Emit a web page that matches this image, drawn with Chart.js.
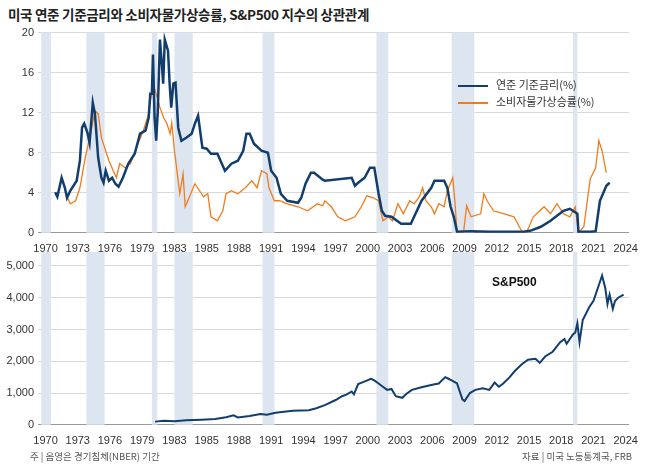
<!DOCTYPE html>
<html><head><meta charset="utf-8">
<script src="https://cdn.jsdelivr.net/npm/chart.js@4"></script>
<style>
body{margin:0;width:650px;height:466px;background:#fff;position:relative;font-family:"Noto Sans CJK KR","Noto Sans",sans-serif;overflow:hidden}
#title{position:absolute;left:8px;top:4px;font-size:13.5px;font-weight:bold;color:#222;letter-spacing:-0.3px}
canvas{position:absolute;left:0}
#c1{top:22px}#c2{top:240px}
.leg{position:absolute;left:458px;font-size:11px;color:#333}
.leg span{display:inline-block;width:30px;height:2.5px;vertical-align:middle;margin-right:8px}
#sp{position:absolute;left:492px;top:275px;font-size:12px;font-weight:bold;font-family:"Liberation Sans",sans-serif;color:#111}
.foot{position:absolute;top:449px;font-size:9.5px;color:#555}
</style></head><body>
<div id="title">미국 연준 기준금리와 소비자물가상승률, S&amp;P500 지수의 상관관계</div>
<canvas id="c1" width="640" height="236"></canvas>
<canvas id="c2" width="640" height="210"></canvas>
<div class="leg" style="top:76px"><span style="background:#123e6e"></span>연준 기준금리(%)</div>
<div class="leg" style="top:93px"><span style="background:#f07c1c;height:1.5px"></span>소비자물가상승률(%)</div>
<div id="sp">S&amp;P500</div>
<div class="foot" style="left:30px">주 | 음영은 경기침체(NBER) 기간</div>
<div class="foot" style="right:18px">자료 | 미국 노동통계국, FRB</div>
<script>
Chart.defaults.font.family = "'Liberation Sans', sans-serif";
Chart.defaults.font.size = 11;
Chart.defaults.color = "#333";

const recessions = [[1969.6,1970.5],[1973.8,1975.5],[1979.9,1980.4],[1982.0,1983.7],[1990.2,1991.3],[2000.8,2001.9],[2007.8,2009.9],[2019.1,2019.5]];

const fedRate = [[1970.9,4.05],[1971.1,3.6],[1971.5,5.5],[1971.8,4.5],[1972.0,3.5],[1972.3,4.2],[1972.9,5.2],[1973.2,7.2],[1973.4,10.5],[1973.6,10.9],[1973.9,10],[1974.1,9],[1974.4,13],[1974.6,11.9],[1974.9,7.5],[1975.2,5.5],[1975.4,5.0],[1975.6,6.2],[1975.9,5.2],[1976.2,5.5],[1976.5,4.9],[1976.8,4.6],[1977.2,5.5],[1977.7,6.9],[1978.3,7.9],[1978.8,9.9],[1979.3,10.2],[1979.6,11.5],[1979.75,13.9],[1979.9,13.9],[1980.0,17.8],[1980.15,11.5],[1980.3,9.2],[1980.45,12.2],[1980.65,19.3],[1980.85,16.5],[1980.95,14.9],[1981.1,19.3],[1981.4,18.2],[1981.55,14.9],[1981.7,12.5],[1981.9,14.9],[1982.1,15],[1982.35,10.5],[1982.65,9.2],[1983.1,9.5],[1983.6,9.9],[1983.9,10.9],[1984.2,11.7],[1984.6,8.5],[1985.0,8.4],[1985.4,7.9],[1986.0,7.9],[1986.7,6.2],[1987.3,6.9],[1987.9,7.2],[1988.4,8.2],[1988.7,9.9],[1989.0,9.9],[1989.4,8.9],[1990.1,8.2],[1990.7,8.0],[1991.0,6.2],[1991.5,5.5],[1991.9,3.9],[1992.5,3.2],[1993.5,3.0],[1993.8,3.5],[1994.2,4.9],[1994.7,6.0],[1995.0,6.0],[1995.8,5.3],[1996.0,5.2],[1998.5,5.5],[1998.8,4.7],[1999.1,5.0],[1999.7,5.5],[2000.2,6.5],[2000.6,6.5],[2001.0,3.9],[2001.3,2.2],[2001.6,1.7],[2002.2,1.6],[2003.1,0.9],[2004.0,0.9],[2005.0,3.2],[2005.9,4.5],[2006.2,5.2],[2007.1,5.2],[2007.4,4.5],[2007.7,2.6],[2008.0,1.6],[2008.3,0.1],[2009.6,0.15],[2011.4,0.1],[2014.5,0.1],[2015.1,0.2],[2016.1,0.6],[2017.0,1.2],[2018.2,2.2],[2018.8,2.4],[2019.5,1.9],[2019.6,0.1],[2020.7,0.1],[2021.2,0.15],[2021.6,3.2],[2022.2,4.7],[2022.5,5.0]];

const cpi = [[1972.0,3.6],[1972.3,2.9],[1972.8,3.2],[1973.2,4.5],[1973.7,7.5],[1974.2,9.9],[1974.6,12.2],[1974.9,11.9],[1975.2,9.5],[1975.9,7.2],[1976.3,6.2],[1976.6,5.5],[1976.9,6.9],[1977.4,6.5],[1977.9,6.9],[1978.6,8.9],[1979.1,10.2],[1979.6,11.9],[1980.0,14.9],[1980.4,13.5],[1980.65,12.5],[1981.0,11.5],[1981.3,10.9],[1981.6,9.9],[1981.75,11.0],[1982.0,8.2],[1982.5,3.9],[1982.8,5.9],[1983.0,2.6],[1983.4,3.6],[1983.9,4.9],[1984.4,4.1],[1984.7,3.6],[1985.1,3.9],[1985.4,1.6],[1986.0,1.2],[1986.5,2.2],[1986.8,3.9],[1987.3,4.2],[1987.9,3.9],[1988.6,4.5],[1989.2,5.2],[1989.7,4.5],[1990.1,6.2],[1990.6,5.9],[1990.8,4.5],[1991.3,3.2],[1991.8,3.2],[1992.5,2.9],[1993.5,2.6],[1994.4,2.2],[1995.3,2.9],[1995.8,2.7],[1996.0,3.2],[1996.6,2.6],[1997.2,1.6],[1997.9,1.2],[1998.8,1.6],[1999.4,2.6],[1999.9,3.7],[2000.5,3.5],[2001.0,3.2],[2001.4,1.2],[2001.9,1.6],[2002.3,1.2],[2002.8,2.9],[2003.3,1.9],[2003.9,3.2],[2004.3,2.9],[2004.8,3.6],[2005.1,4.5],[2005.4,3.2],[2005.9,2.6],[2006.2,1.9],[2006.6,2.9],[2007.1,2.6],[2007.4,4.2],[2007.9,5.5],[2008.1,3.2],[2008.3,0],[2008.9,0],[2009.2,2.7],[2009.6,1.6],[2010.5,1.9],[2010.8,3.9],[2011.1,3.2],[2011.7,2.2],[2012.7,1.9],[2013.6,1.6],[2014.4,0],[2014.8,0.1],[2015.4,1.6],[2016.4,2.6],[2017.0,1.9],[2017.6,2.9],[2018.2,1.9],[2018.8,1.6],[2019.3,2.6],[2019.6,0],[2020.1,0.6],[2020.7,5.4],[2021.2,6.5],[2021.5,9.2],[2021.8,8.2],[2022.1,6.5],[2022.2,6.0]];

const sp500 = [[1980.2,100],[1981.0,125],[1982.0,110],[1983.1,140],[1984.5,160],[1985.8,180],[1986.8,240],[1987.5,300],[1987.9,230],[1989.0,280],[1990.0,340],[1990.6,320],[1991.4,380],[1993.0,440],[1994.5,460],[1995.2,520],[1996.0,620],[1997.0,780],[1997.6,900],[1998.0,950],[1998.5,1050],[1998.7,960],[1999.1,1280],[1999.6,1350],[2000.3,1450],[2000.6,1400],[2001.0,1300],[2001.4,1200],[2001.8,1100],[2002.2,1130],[2002.6,900],[2003.2,850],[2003.6,980],[2004.1,1100],[2005.0,1180],[2006.1,1270],[2006.6,1300],[2007.2,1500],[2007.5,1450],[2007.8,1400],[2008.3,1300],[2008.8,800],[2009.0,750],[2009.5,1000],[2010.0,1100],[2010.7,1150],[2011.3,1100],[2011.8,1330],[2012.2,1200],[2012.6,1300],[2013.2,1500],[2013.7,1700],[2014.3,1900],[2014.9,2050],[2015.6,2080],[2016.0,1950],[2016.5,2150],[2017.2,2300],[2017.9,2600],[2018.3,2700],[2018.5,2550],[2019.1,2850],[2019.3,2900],[2019.5,3200],[2019.7,2600],[2020.0,3300],[2020.6,3700],[2021.0,3900],[2021.4,4300],[2021.8,4700],[2022.1,4300],[2022.3,3800],[2022.5,4100],[2022.8,3650],[2023.0,3900],[2023.3,4000],[2023.8,4100]];

const tickLabel = {1982: "1983"};
const xScale = {
  type: "linear", min: 1969.3, max: 2024.3,
  grid: {display: false},
  border: {color: "#999"},
  afterBuildTicks: (axis) => { axis.ticks = []; for (let y = 1970; y <= 2024; y += 3) axis.ticks.push({value: y}); },
  ticks: {autoSkip: false, maxRotation: 0, padding: 2, color: "#333", callback: (v) => tickLabel[v] || String(v)},
};

const bands = {
  id: "bands",
  beforeDatasetsDraw(chart) {
    const {ctx, chartArea, scales} = chart;
    ctx.save();
    ctx.fillStyle = "#dde5f0";
    recessions.forEach(([a, b]) => {
      const x1 = scales.x.getPixelForValue(a), x2 = scales.x.getPixelForValue(b);
      ctx.fillRect(x1, chartArea.top, x2 - x1, chartArea.bottom - chartArea.top);
    });
    ctx.restore();
  },
};

const toPts = (arr) => arr.map(([x, y]) => ({x, y}));

new Chart(document.getElementById("c1"), {
  type: "line",
  data: {
    datasets: [
      {data: toPts(fedRate), borderColor: "#123e6e", borderWidth: 2.5, pointRadius: 0, tension: 0},
      {data: toPts(cpi), borderColor: "#f07c1c", borderWidth: 1.3, pointRadius: 0, tension: 0},
    ],
  },
  options: {
    responsive: false, animation: false,
    layout: {padding: {top: 6, right: 8}},
    plugins: {legend: {display: false}, tooltip: {enabled: false}},
    scales: {
      x: xScale,
      y: {min: 0, max: 20, afterFit: (a) => { a.width = 38; },
        ticks: {stepSize: 4, padding: 4, color: "#333"},
        grid: {color: "#d9d9d9", drawTicks: false}, border: {display: false}},
    },
  },
  plugins: [bands],
});

new Chart(document.getElementById("c2"), {
  type: "line",
  data: {datasets: [{data: toPts(sp500), borderColor: "#123e6e", borderWidth: 2, pointRadius: 0, tension: 0}]},
  options: {
    responsive: false, animation: false,
    layout: {padding: {top: 12, right: 8}},
    plugins: {legend: {display: false}, tooltip: {enabled: false}},
    scales: {
      x: xScale,
      y: {min: 0, max: 5440, afterFit: (a) => { a.width = 38; },
        afterBuildTicks: (axis) => { axis.ticks = [0,1000,2000,3000,4000,5000].map((v) => ({value: v})); },
        ticks: {padding: 4, color: "#333", callback: (v) => v.toLocaleString("en-US")},
        grid: {color: "#d9d9d9", drawTicks: false}, border: {display: false}},
    },
  },
  plugins: [bands],
});
</script>
</body></html>
